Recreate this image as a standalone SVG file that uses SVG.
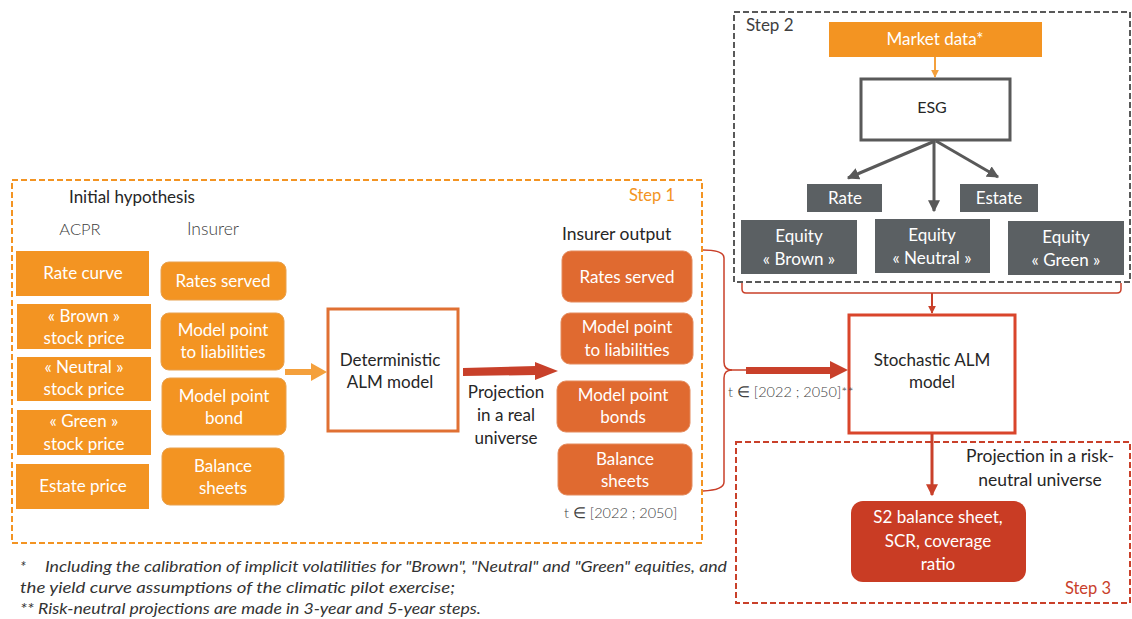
<svg xmlns="http://www.w3.org/2000/svg" width="1132" height="619" viewBox="0 0 1132 619">
<defs>
<style>
text{font-family:Lato,"Open Sans","Liberation Sans",sans-serif;}
.w{fill:#fff;font-size:17px;text-anchor:middle;}
.d{fill:#262626;font-size:17px;text-anchor:middle;}
.acpr{fill:#F39422;}
.ins{fill:#F39422;stroke:#e8a14e;stroke-width:1;}
.out{fill:#E06A30;stroke:#e48a5c;stroke-width:1;}
.gb{fill:#5B6063;}
.small{fill:#404040;font-size:14.5px;font-weight:300;}
.foot{fill:#333;font-size:15px;font-style:italic;}
</style>
<marker id="ag" viewBox="0 0 10 10" refX="9" refY="5" markerWidth="4" markerHeight="4" orient="auto"><path d="M0,0 L10,5 L0,10 z" fill="#595959"/></marker>
<marker id="ar" viewBox="0 0 10 10" refX="9" refY="5" markerWidth="4" markerHeight="4" orient="auto"><path d="M0,0 L10,5 L0,10 z" fill="#C9402A"/></marker>
<marker id="ao" viewBox="0 0 10 10" refX="9" refY="5" markerWidth="4" markerHeight="4" orient="auto"><path d="M0,0 L10,5 L0,10 z" fill="#F4A03C"/></marker>
</defs>
<rect width="1132" height="619" fill="#fff"/>

<!-- Step frames -->
<g id="step1">
<rect x="12" y="180" width="690" height="363" fill="none" stroke="#F39422" stroke-width="2" stroke-dasharray="6,3"/>
<text x="652" y="201" style="fill:#F39422;font-size:16.5px;text-anchor:middle;">Step 1</text>
<text x="69" y="203" style="fill:#262626;font-size:17px;">Initial hypothesis</text>
<text x="80" y="235" style="fill:#404040;font-size:16.5px;text-anchor:middle;font-weight:300;">ACPR</text>
<text x="213" y="235" style="fill:#404040;font-size:17.5px;text-anchor:middle;font-weight:300;">Insurer</text>
</g>
<g id="step2">
<rect x="734" y="12" width="396" height="270" fill="none" stroke="#595959" stroke-width="2" stroke-dasharray="6,3"/>
<text x="746" y="31" style="fill:#404040;font-size:17px;">Step 2</text>
</g>
<g id="step3">
<rect x="736" y="442" width="394" height="161" fill="none" stroke="#C9402A" stroke-width="2" stroke-dasharray="6,3"/>
<text x="1088" y="594" style="fill:#C9402A;font-size:16.5px;text-anchor:middle;">Step 3</text>
<text x="1040" y="462" class="d" style="font-size:17.5px;">Projection in a risk-</text>
<text x="1040" y="486" class="d" style="font-size:17.5px;">neutral universe</text>
</g>

<!-- ACPR -->
<g id="rate-curve"><rect class="acpr" x="16" y="251" width="133" height="45"/><text class="w" x="83" y="279">Rate curve</text></g>
<g id="brown-stock"><rect class="acpr" x="17" y="304" width="134" height="45"/><text class="w" x="84" y="322">« Brown »</text><text class="w" x="84" y="344">stock price</text></g>
<g id="neutral-stock"><rect class="acpr" x="17" y="357" width="134" height="44"/><text class="w" x="84" y="373">« Neutral »</text><text class="w" x="84" y="395">stock price</text></g>
<g id="green-stock"><rect class="acpr" x="17" y="410" width="134" height="45"/><text class="w" x="84" y="427">« Green »</text><text class="w" x="84" y="450">stock price</text></g>
<g id="estate-price"><rect class="acpr" x="16" y="464" width="133" height="45"/><text class="w" x="83" y="492">Estate price</text></g>

<!-- Insurer -->
<g id="ins-rates"><rect class="ins" x="161" y="262" width="125" height="38" rx="8"/><text class="w" x="223" y="287">Rates served</text></g>
<g id="ins-liab"><rect class="ins" x="161" y="313" width="123" height="57" rx="8"/><text class="w" x="223" y="336">Model point</text><text class="w" x="223" y="358">to liabilities</text></g>
<g id="ins-bond"><rect class="ins" x="162" y="378" width="124" height="57" rx="8"/><text class="w" x="224" y="402">Model point</text><text class="w" x="224" y="424">bond</text></g>
<g id="ins-balance"><rect class="ins" x="162" y="448" width="122" height="57" rx="8"/><text class="w" x="223" y="472">Balance</text><text class="w" x="223" y="494">sheets</text></g>

<!-- Deterministic -->
<g id="deterministic"><rect x="328" y="309" width="130" height="122" fill="#fff" stroke="#E07033" stroke-width="3"/><text class="d" x="390" y="366">Deterministic</text><text class="d" x="390" y="388">ALM model</text></g>

<g id="proj-label"><text class="d" x="506" y="398">Projection</text><text class="d" x="506" y="421">in a real</text><text class="d" x="506" y="444">universe</text></g>

<!-- Insurer output -->
<g id="output-title"><text x="562" y="240" style="fill:#262626;font-size:17.5px;">Insurer output</text></g>
<g id="out-rates"><rect class="out" x="562" y="251" width="130" height="51" rx="9"/><text class="w" x="627" y="283">Rates served</text></g>
<g id="out-liab"><rect class="out" x="561" y="313" width="132" height="51" rx="9"/><text class="w" x="627" y="333">Model point</text><text class="w" x="627" y="356">to liabilities</text></g>
<g id="out-bonds"><rect class="out" x="557" y="381" width="133" height="51" rx="9"/><text class="w" x="623" y="401">Model point</text><text class="w" x="623" y="423">bonds</text></g>
<g id="out-balance"><rect class="out" x="558" y="444" width="134" height="51" rx="9"/><text class="w" x="625" y="465">Balance</text><text class="w" x="625" y="487">sheets</text></g>
<g id="t-range1"><text class="small" x="564" y="518">t ∈ [2022 ; 2050]</text></g>

<!-- Step 2 nodes -->
<g id="market-data"><rect class="acpr" x="829" y="22" width="213" height="35"/><text class="w" x="935" y="45">Market data*</text></g>
<g id="esg"><rect x="861" y="79" width="149" height="61" fill="#fff" stroke="#595959" stroke-width="3"/><text class="d" x="932" y="113" style="font-size:16px;">ESG</text></g>
<g id="rate"><rect class="gb" x="807" y="184" width="75" height="28"/><text class="w" x="845" y="204">Rate</text></g>
<g id="estate"><rect class="gb" x="960" y="184" width="78" height="28"/><text class="w" x="999" y="204">Estate</text></g>
<g id="eq-brown"><rect class="gb" x="741" y="220" width="116" height="54"/><text class="w" x="799" y="242">Equity</text><text class="w" x="799" y="265">« Brown »</text></g>
<g id="eq-neutral"><rect class="gb" x="875" y="219" width="115" height="54"/><text class="w" x="932" y="241">Equity</text><text class="w" x="932" y="264">« Neutral »</text></g>
<g id="eq-green"><rect class="gb" x="1008" y="221" width="116" height="54"/><text class="w" x="1066" y="243">Equity</text><text class="w" x="1066" y="266">« Green »</text></g>

<!-- Stochastic -->
<g id="stochastic"><rect x="849" y="315" width="166" height="118" fill="#fff" stroke="#D9452B" stroke-width="3"/><text class="d" x="932" y="366">Stochastic ALM</text><text class="d" x="932" y="388">model</text></g>
<g id="t-range2"><text class="small" x="728" y="397">t ∈ [2022 ; 2050]**</text></g>

<!-- S2 -->
<g id="s2"><rect x="851" y="501" width="175" height="81" rx="12" fill="#C93C24"/><text class="w" x="938" y="523">S2 balance sheet,</text><text class="w" x="938" y="547">SCR, coverage</text><text class="w" x="938" y="570">ratio</text></g>

<!-- Connectors -->
<g id="connectors">
<rect x="285" y="369" width="27" height="6" fill="#F4A03C"/>
<polygon points="311,363 327,372 311,381" fill="#F4A03C"/>
<polygon points="463,368 536,366 536,375 463,376" fill="#C8402A"/>
<polygon points="535,362 558,371 535,380" fill="#C8402A"/>
<line x1="935" y1="57" x2="935" y2="77" stroke="#F4A03C" stroke-width="2" marker-end="url(#ao)"/>
<line x1="935" y1="141" x2="848" y2="178" stroke="#595959" stroke-width="3" marker-end="url(#ag)"/>
<line x1="934" y1="141" x2="934" y2="211" stroke="#595959" stroke-width="3" marker-end="url(#ag)"/>
<line x1="936" y1="141" x2="998" y2="177" stroke="#595959" stroke-width="3" marker-end="url(#ag)"/>
<path d="M742,283 L742,289 Q742,293 746,293 L1117,293 Q1121,293 1121,289 L1121,283" fill="none" stroke="#C9402A" stroke-width="1.5"/>
<line x1="932" y1="293" x2="932" y2="313" stroke="#C9402A" stroke-width="2" marker-end="url(#ar)"/>
<path d="M703,250 Q724,250 724,258 L724,362 Q724,370 732,370 Q724,370 724,378 L724,482 Q724,490 703,491" fill="none" stroke="#C9402A" stroke-width="1.5"/>
<line x1="730" y1="370" x2="748" y2="370" stroke="#C9402A" stroke-width="1.5"/>
<rect x="746" y="367" width="86" height="7" fill="#C9402A"/>
<polygon points="830,361 848,370 830,379" fill="#C9402A"/>
<line x1="932" y1="434" x2="932" y2="495" stroke="#C9402A" stroke-width="3" marker-end="url(#ar)"/>
</g>

<!-- Footnotes -->
<g id="footnotes">
<text class="foot" x="20" y="572">*</text>
<text class="foot" x="45" y="572" textLength="682" lengthAdjust="spacingAndGlyphs">Including the calibration of implicit volatilities for "Brown", "Neutral" and "Green" equities, and</text>
<text class="foot" x="20" y="593" textLength="435" lengthAdjust="spacingAndGlyphs">the yield curve assumptions of the climatic pilot exercise;</text>
<text class="foot" x="20" y="614" textLength="461" lengthAdjust="spacingAndGlyphs">** Risk-neutral projections are made in 3-year and 5-year steps.</text>
</g>
</svg>
